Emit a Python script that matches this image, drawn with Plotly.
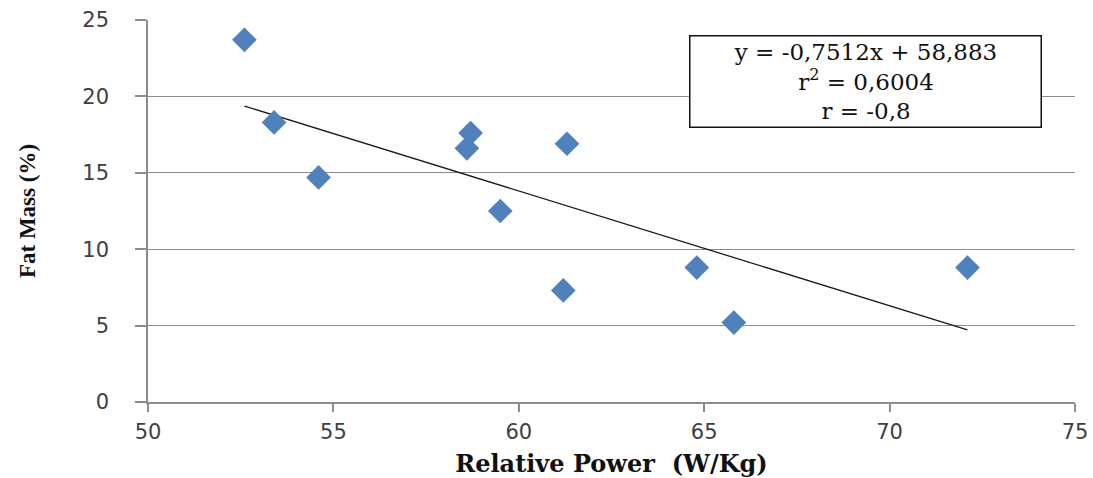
import plotly.graph_objects as go

relative_power = [52.6, 53.4, 54.6, 58.6, 58.7, 59.5, 61.3, 61.2, 64.8, 65.8, 72.1]
fat_mass = [23.7, 18.3, 14.7, 16.6, 17.6, 12.5, 16.9, 7.3, 8.8, 5.2, 8.8]
slope = -0.7512
intercept = 58.883
trend_x = [min(relative_power), max(relative_power)]
trend_y = [slope * v + intercept for v in trend_x]
x_ticks = [50, 55, 60, 65, 70, 75]
y_ticks = [0, 5, 10, 15, 20, 25]

fig = go.Figure()
fig.add_trace(go.Scatter(x=trend_x, y=trend_y, mode="lines",
                         line=dict(color="#1a1a1a", width=1.3), hoverinfo="skip"))
fig.add_trace(go.Scatter(x=relative_power, y=fat_mass, mode="markers",
                         marker=dict(symbol="diamond", size=19, color="#4F81BD",
                                     line=dict(width=0))))

fig.update_layout(
    width=1093, height=478,
    margin=dict(l=148, r=18, t=20, b=76),
    paper_bgcolor="white", plot_bgcolor="white",
    showlegend=False,
    font=dict(family="DejaVu Sans", color="#404040", size=21),
    xaxis=dict(range=[50, 75], tickvals=x_ticks, showgrid=False, zeroline=False,
               automargin=False, ticklabeloverflow="allow",
               showline=True, linecolor="#8c8c8c", linewidth=1.5,
               ticks="outside", ticklen=8, tickcolor="#8c8c8c", tickwidth=1.5,
               ticklabelstandoff=2,
               tickfont=dict(family="DejaVu Sans", size=21, color="#404040"),
               title=dict(text="<b>Relative Power  (W/Kg)</b>", standoff=12,
                          font=dict(family="DejaVu Serif", size=24, color="#111111"))),
    yaxis=dict(range=[0, 25], tickvals=y_ticks, showgrid=True, gridcolor="#8c8c8c",
               gridwidth=1.2, zeroline=False, automargin=False,
               ticklabeloverflow="allow",
               showline=True, linecolor="#8c8c8c", linewidth=1.5,
               ticks="outside", ticklen=11, tickcolor="#8c8c8c", tickwidth=1.5,
               ticklabelstandoff=22,
               tickfont=dict(family="DejaVu Sans", size=21, color="#404040"),
               title=dict(text="<b>Fat Mass (%)</b>", standoff=40,
                          font=dict(family="Liberation Serif", size=23, color="#111111"))),
)

fig.add_annotation(
    x=0.7745, y=0.840, xref="paper", yref="paper", xanchor="center", yanchor="middle",
    text="y = -0,7512x + 58,883<br>r<sup>2</sup> = 0,6004<br>r = -0,8",
    showarrow=False, align="center", width=346, height=86,
    font=dict(family="DejaVu Serif", size=23, color="#111111"),
    bordercolor="#111111", borderwidth=1.5, borderpad=2, bgcolor="white",
)

fig.write_html("out.html", config={"displayModeBar": False},
               post_script="document.body.style.margin='0';document.body.style.overflow='hidden';")
